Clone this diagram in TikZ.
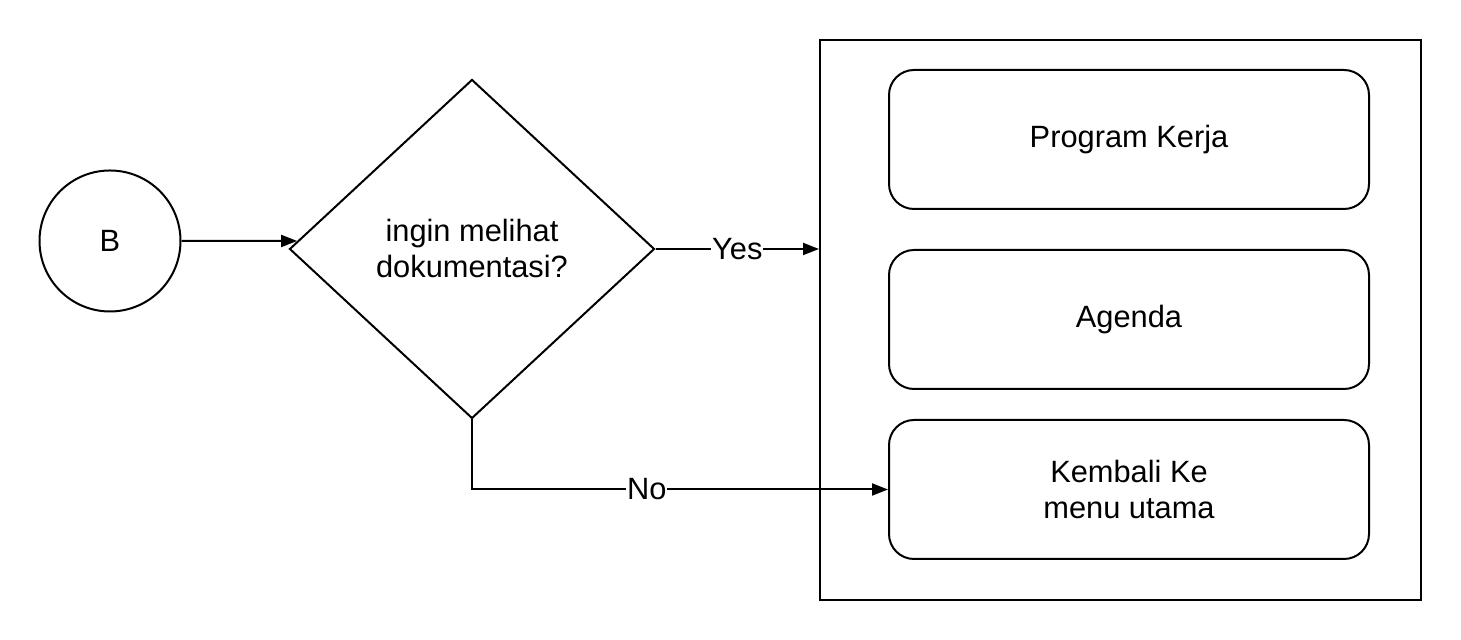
\documentclass[tikz,border=0pt]{standalone}
\usepackage{fontspec}
\setmainfont{Liberation Sans}
\usetikzlibrary{positioning}
\usetikzlibrary{shapes.geometric}
\usetikzlibrary{arrows.meta}
\usetikzlibrary{calc}

\tikzset{
  line/.style={line width=1pt, -{Triangle[length=8pt,width=6pt]}},
  menubox/.style={draw, line width=1pt, rounded corners=12.5pt,
    minimum width=240pt, minimum height=69.5pt, align=center},
  lbl/.style={fill=white, inner sep=0.5pt}
}

\begin{document}
\begin{tikzpicture}[x=25pt,y=25pt,font=\fontsize{15.4pt}{18pt}\selectfont]
\useasboundingbox (0,0) rectangle (29.22,12.8);
\path (2.2,7.98) node[draw, circle, line width=1pt, minimum size=70.5pt] (B) {B}
(9.44,7.82) node[draw, diamond, line width=1pt, inner sep=0pt,
  minimum width=182.5pt, minimum height=169.5pt, align=center] (ask)
  {ingin melihat\\dokumentasi?}
(22.41,6.4) node[draw, line width=1pt, minimum width=300.5pt,
  minimum height=280pt] (menu) {}
(22.58,10.01) node[menubox] (proker) {Program Kerja}
(22.58,6.41) node[menubox] (agenda) {Agenda}
(22.58,3.01) node[menubox] (back) {Kembali Ke\\menu utama};
\coordinate (askin) at ($(ask.west)!0.047!(ask.north)$);
\draw[line] (B) -- (askin);
\draw[line] (ask.east) -- node[lbl] {Yes} (ask.east -| menu.west);
\draw[line] (ask.south) |- node[lbl, pos=0.71] {No} (back.west);
\end{tikzpicture}
\end{document}
